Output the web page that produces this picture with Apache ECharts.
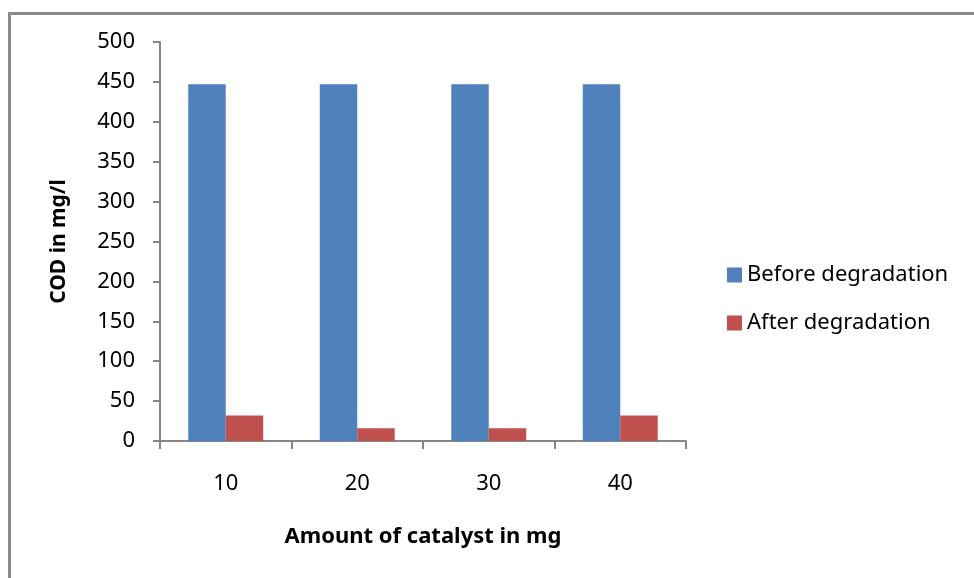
<!DOCTYPE html>
<html><head><meta charset="utf-8">
<script src="https://cdn.jsdelivr.net/npm/echarts@6/dist/echarts.min.js"></script>
<style>html,body{margin:0;padding:0;background:#fff}#c{width:974px;height:578px}</style>
</head><body><div id="c"></div>
<script>
const categories = ['10', '20', '30', '40'];
const beforeDegradation = [447, 447, 447, 447];
const afterDegradation = [32, 16, 16, 32];
const yTicks = { min: 0, max: 500, interval: 50 };

const font = '"Noto Sans", sans-serif';
const axisColor = '#868686';
const chart = echarts.init(document.getElementById('c'));
chart.setOption({
  animation: false,
  backgroundColor: '#fff',
  graphic: [
    { type: 'rect', shape: { x: 8, y: 12, width: 970, height: 3 }, style: { fill: '#8a8a8a' }, silent: true },
    { type: 'rect', shape: { x: 8, y: 12, width: 3, height: 570 }, style: { fill: '#8a8a8a' }, silent: true }
  ],
  grid: { left: 160, top: 42, right: 288, bottom: 137 },
  legend: {
    orient: 'vertical', left: 727, top: 264, itemGap: 26, padding: 0,
    itemWidth: 15, itemHeight: 15, icon: 'rect',
    textStyle: { fontFamily: font, fontSize: 22, color: '#000' },
    data: ['Before degradation', 'After degradation']
  },
  xAxis: {
    type: 'category', data: categories,
    name: 'Amount of catalyst in mg', nameLocation: 'middle', nameGap: 85,
    nameTextStyle: { fontFamily: font, fontSize: 22, fontWeight: 'bold', color: '#000' },
    axisLine: { lineStyle: { color: axisColor, width: 2 } },
    axisTick: { show: true, length: 8, lineStyle: { color: axisColor, width: 2 } },
    axisLabel: { fontFamily: font, fontSize: 22, color: '#000', margin: 32 }
  },
  yAxis: {
    type: 'value', min: yTicks.min, max: yTicks.max, interval: yTicks.interval,
    name: 'COD in mg/l', nameLocation: 'middle', nameGap: 90, nameRotate: 90,
    nameTextStyle: { fontFamily: font, fontSize: 21, fontWeight: 'bold', color: '#000' },
    axisLine: { show: true, lineStyle: { color: axisColor, width: 2 } },
    axisTick: { show: true, length: 7, lineStyle: { color: axisColor, width: 2 } },
    splitLine: { show: false },
    axisLabel: { fontFamily: font, fontSize: 22, color: '#000', margin: 25 }
  },
  series: [
    { name: 'Before degradation', type: 'bar', data: beforeDegradation, barGap: '0%', barCategoryGap: '43%',
      itemStyle: { color: '#4f81bd' } },
    { name: 'After degradation', type: 'bar', data: afterDegradation,
      itemStyle: { color: '#c0504d' } }
  ]
});
</script></body></html>
